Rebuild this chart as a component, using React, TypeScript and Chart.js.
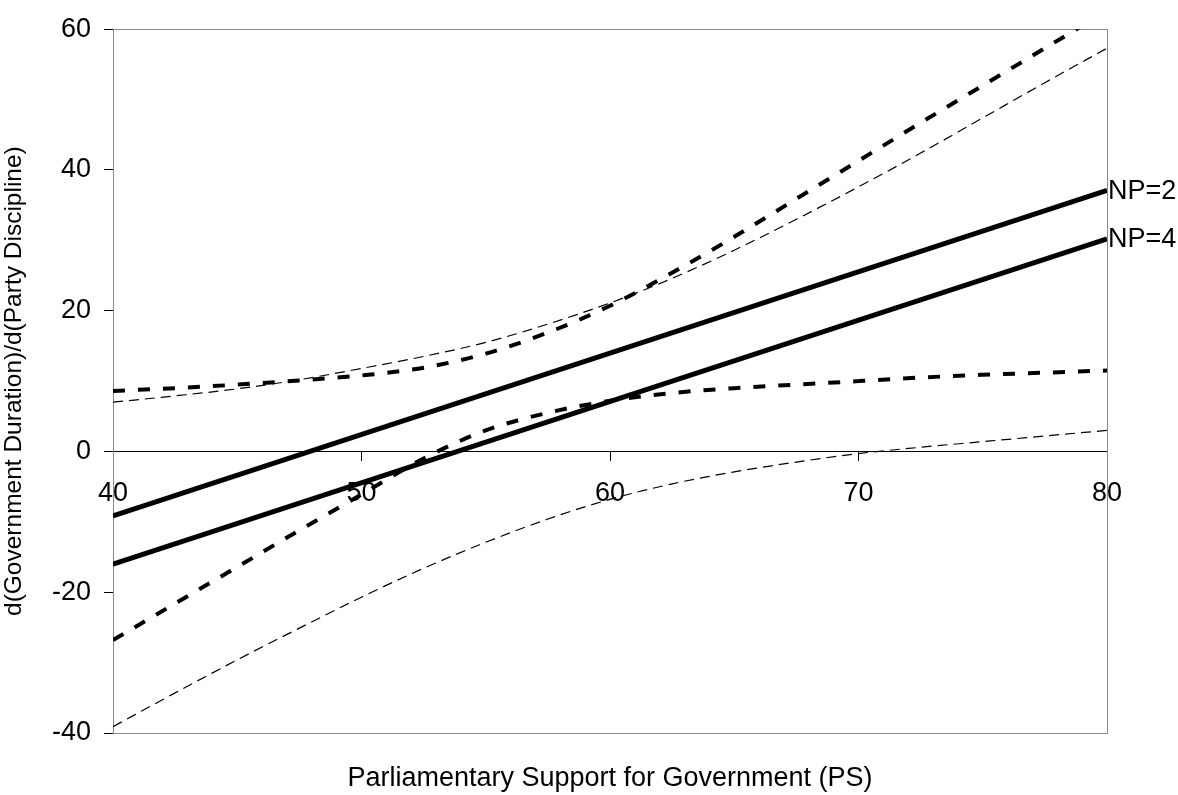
import React, { useEffect, useRef } from "react";
import { Chart, registerables } from "chart.js";

Chart.register(...registerables);

// Parliamentary support (x) sample points
const psValues = [40, 42.5, 45, 47.5, 50, 52.5, 55, 57.5, 60, 62.5, 65, 67.5, 70, 72.5, 75, 77.5, 80];
// Marginal-effect lines (endpoints at PS = 40 and 80)
const lineEnds = [40, 80];
const np2Line = [-9.15, 37.1];
const np4Line = [-16.0, 30.2];
// Confidence bounds, NP=2 (thick dashed)
const np2Upper = [8.6, 9.0, 9.5, 10.1, 10.8, 11.9, 13.9, 16.9, 20.7, 25.4, 30.5, 35.9, 41.3, 46.7, 52.0, 57.3, 62.6];
const np2Lower = [-26.8, -21.6, -16.4, -11.2, -6.1, -1.0, 3.0, 5.5, 7.2, 8.3, 9.0, 9.5, 10.0, 10.5, 10.9, 11.2, 11.5];
// Confidence bounds, NP=4 (thin dashed)
const np4Upper = [7.0, 7.9, 8.9, 10.2, 11.8, 13.5, 15.5, 18.1, 21.1, 24.6, 28.6, 33.0, 37.6, 42.4, 47.4, 52.4, 57.3];
const np4Lower = [-39.1, -34.3, -29.6, -25.1, -20.7, -16.6, -12.9, -9.6, -6.8, -4.6, -2.9, -1.5, -0.3, 0.6, 1.4, 2.2, 3.0];

const lineLabels = ["NP=2", "NP=4"];
const xTitle = "Parliamentary Support for Government (PS)";
const yTitle = "d(Government Duration)/d(Party Discipline)";

const FONT = "'Liberation Sans', Arial, Helvetica, sans-serif";
const FS = 27;
const YFS = 24.5;

const toPts = (xs: number[], ys: number[]) => xs.map((x, i) => ({ x, y: ys[i] }));

export default function App() {
  const ref = useRef<HTMLCanvasElement | null>(null);

  useEffect(() => {
    if (!ref.current) return;

    const decor = {
      id: "decor",
      beforeDatasetsDraw(chart: any) {
        const { ctx, chartArea: a } = chart;
        ctx.save();
        ctx.strokeStyle = "#8a8a8a";
        ctx.lineWidth = 1;
        ctx.strokeRect(Math.round(a.left) + 0.5, Math.round(a.top) + 0.5, Math.round(a.right - a.left), Math.round(a.bottom - a.top));
        ctx.restore();
      },
      afterDraw(chart: any) {
        const { ctx, chartArea: a, scales } = chart;
        const xs = scales.x;
        const ys = scales.y;
        ctx.save();
        ctx.fillStyle = "#000";
        ctx.font = `${FS}px ${FONT}`;
        // end-of-line labels
        ctx.textAlign = "left";
        ctx.textBaseline = "middle";
        const xEnd = xs.getPixelForValue(lineEnds[1]);
        ctx.fillText(lineLabels[0], xEnd + 1, ys.getPixelForValue(np2Line[1]) + 1);
        ctx.fillText(lineLabels[1], xEnd + 1, ys.getPixelForValue(np4Line[1]) + 1);
        // x title
        ctx.textAlign = "center";
        ctx.textBaseline = "alphabetic";
        ctx.fillText(xTitle, (a.left + a.right) / 2, 786);
        // y title
        ctx.font = `${YFS}px ${FONT}`;
        ctx.translate(20.5, (a.top + a.bottom) / 2);
        ctx.rotate(-Math.PI / 2);
        ctx.fillText(yTitle, 0, 0);
        ctx.restore();
      },
    };

    const thin = {
      borderColor: "#000",
      borderWidth: 1.2,
      borderDash: [10, 6],
      pointRadius: 0,
      cubicInterpolationMode: "monotone" as const,
      clip: 0,
    };
    const thick = {
      borderColor: "#000",
      borderWidth: 4,
      borderDash: [12, 13],
      pointRadius: 0,
      cubicInterpolationMode: "monotone" as const,
      clip: 0,
    };
    const solid = { borderColor: "#000", borderWidth: 5, pointRadius: 0, clip: 0 };

    const chart = new Chart(ref.current, {
      type: "line",
      data: {
        datasets: [
          { ...thin, data: toPts(psValues, np4Upper) },
          { ...thin, data: toPts(psValues, np4Lower) },
          { ...thick, data: toPts(psValues, np2Upper) },
          { ...thick, data: toPts(psValues, np2Lower) },
          { ...solid, data: toPts(lineEnds, np2Line) },
          { ...solid, data: toPts(lineEnds, np4Line) },
        ],
      },
      options: {
        animation: false,
        responsive: false,
        maintainAspectRatio: false,
        layout: { padding: { left: 0, top: 26, right: 71, bottom: 62 } },
        plugins: { legend: { display: false }, tooltip: { enabled: false }, title: { display: false } },
        scales: {
          x: {
            type: "linear",
            position: { y: 0 } as any,
            min: 40,
            max: 80,
            ticks: {
              stepSize: 10,
              color: "#000",
              font: { family: FONT, size: FS },
              padding: 17,
              maxRotation: 0,
            },
            grid: { drawOnChartArea: false, drawTicks: true, tickLength: 9, color: "#000" },
            border: { display: true, color: "#000", width: 1 },
          },
          y: {
            type: "linear",
            position: "left",
            min: -40,
            max: 60,
            afterFit(scale: any) {
              scale.width = 113;
            },
            ticks: {
              stepSize: 20,
              color: "#000",
              font: { family: FONT, size: FS },
              padding: 13,
            },
            grid: { drawOnChartArea: false, drawTicks: true, tickLength: 9, color: "#000" },
            border: { display: true, color: "#000", width: 1 },
          },
        },
      },
      plugins: [decor],
    });

    return () => chart.destroy();
  }, []);

  return (
    <div style={{ position: "absolute", left: 0, top: 0, width: 1178, height: 795, background: "#fff" }}>
      <canvas ref={ref} width={1178} height={795} style={{ width: 1178, height: 795 }} />
    </div>
  );
}
